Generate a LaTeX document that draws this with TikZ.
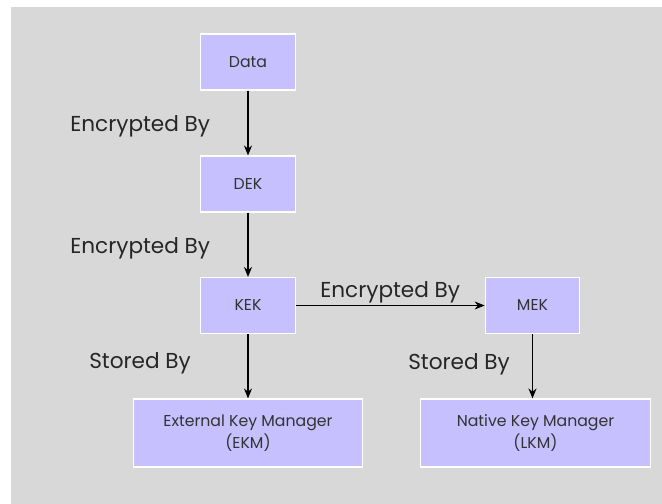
\documentclass[tikz,border=0pt]{standalone}
\usepackage{fontspec}
\setmainfont{Poppins}
\usetikzlibrary{arrows.meta}

\definecolor{bggray}{HTML}{D8D8D8}
\definecolor{boxfill}{HTML}{C6C0FF}
\definecolor{boxtext}{HTML}{333333}

\tikzset{
    keybox/.style={draw=white, line width=0.8pt, fill=boxfill, text=boxtext,
        font=\fontsize{11.8}{16.5}\selectfont, align=center,
        minimum width=71pt, minimum height=42pt, inner sep=0pt},
    wide/.style={keybox, minimum width=172pt, minimum height=51pt},
    edgelabel/.style={anchor=base west, inner sep=0pt, text=black!85,
        font=\fontsize{16.2}{19}\selectfont},
    link/.style={-{Stealth[length=7.5pt, width=6pt]}, line width=0.9pt}
}

\begin{document}
\begin{tikzpicture}[x=0.75pt, y=-0.75pt]
    \useasboundingbox (0,0) rectangle (662,504);
    % background
    \fill[bggray] (11,7) rectangle (662,504);

    % boxes
    \node[keybox] (data) at (248,62) {Data};
    \node[keybox] (dek) at (248,184) {DEK};
    \node[keybox] (kek) at (248,305.5) {KEK};
    \node[keybox] (mek) at (532.5,305.5) {MEK};
    \node[wide] (ekm) at (248,433) {External Key Manager\\(EKM)};
    \node[wide] (lkm) at (535.5,433) {Native Key Manager\\(LKM)};

    % connectors
    \draw[link] (data) -- (dek);
    \draw[link] (dek) -- (kek);
    \draw[link] (kek) -- (mek);
    \draw[link] (kek) -- (ekm);
    \draw[link] (mek.south) -- (mek.south |- lkm.north);

    % labels
    \node[edgelabel] (enc1) at (70,131) {Encrypted By};
    \node[edgelabel] (enc2) at (70,253) {Encrypted By};
    \node[edgelabel] (enc3) at (320,297) {Encrypted By};
    \node[edgelabel] (sto1) at (89,368) {Stored By};
    \node[edgelabel] (sto2) at (408,369) {Stored By};
\end{tikzpicture}
\end{document}
